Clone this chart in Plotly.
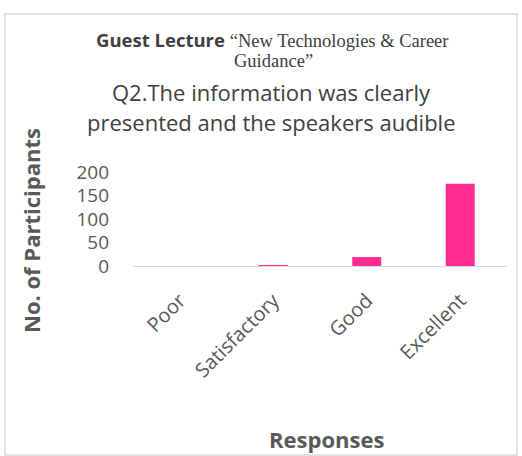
import plotly.graph_objects as go

categories = ["Poor", "Satisfactory", "Good", "Excellent"]
participants = [0, 1, 19, 175]
y_ticks = [0, 50, 100, 150, 200]

W, H = 522, 456
L, R, T, B = 133, 15, 172, 190
pw, ph = W - L - R, H - T - B

def px(x):
    return (x - L) / pw

def py(y):
    return (H - B - y) / ph

fig = go.Figure(go.Bar(
    x=categories, y=participants,
    marker=dict(color="#FF2D92", line=dict(width=0)),
    width=0.31,
))

gray = "#595959"
dark = "#404040"
serif = "font-family:'Liberation Serif',serif"

def note(x, y, text, size, color, angle=0):
    return dict(xref="paper", yref="paper", x=px(x), y=py(y), showarrow=False,
                xanchor="center", yanchor="middle", text=text, textangle=angle,
                font=dict(size=size, color=color))

fig.update_layout(
    width=W, height=H,
    margin=dict(l=L, r=R, t=T, b=B, autoexpand=False),
    paper_bgcolor="white", plot_bgcolor="white",
    showlegend=False,
    font=dict(family="Open Sans, sans-serif", color=gray),
    xaxis=dict(
        automargin=False,
        showline=True, linecolor="#d9d9d9", linewidth=1,
        showgrid=False, ticks="", tickangle=-45, ticklabelstandoff=14,
        tickfont=dict(size=20, color=gray),
    ),
    yaxis=dict(
        automargin=False,
        range=[0, 200], tickvals=y_ticks, showgrid=False, zeroline=False,
        showline=False, ticks="", ticklabelstandoff=23,
        tickfont=dict(size=19, color=gray),
    ),
    shapes=[dict(
        type="rect", xref="paper", yref="paper",
        x0=px(5), x1=px(517), y0=py(14), y1=py(455),
        line=dict(color="#d9d9d9", width=1.5), fillcolor="rgba(0,0,0,0)",
        layer="below",
    )],
    annotations=[
        note(272, 39, "<b>Guest Lecture </b><span style=\"" + serif + "\">\u201cNew Technologies &amp; Career</span>", 18.5, dark),
        note(273, 61, "<span style=\"" + serif + "\">Guidance\u201d</span>", 18.5, dark),
        note(271, 92, "Q2.The information was clearly", 22, dark),
        note(271, 122, "presented and the speakers audible", 22, dark),
        note(31, 231, "<b>No. of Participants</b>", 22, gray, -90),
        note(326, 439, "<b>Responses</b>", 22, gray),
    ],
)

fig.write_html("out.html", config={"displayModeBar": False},
               post_script="document.body.style.margin='0px';")
